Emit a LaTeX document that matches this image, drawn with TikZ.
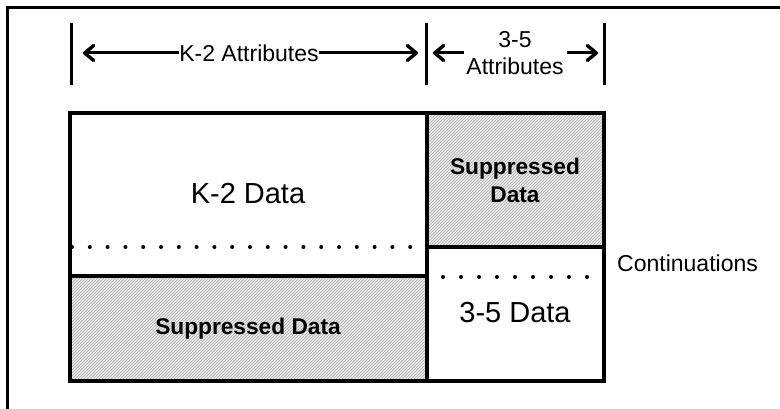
\documentclass[tikz,border=0pt]{standalone}
\usepackage{fontspec}
\setmainfont{Liberation Sans}
\usetikzlibrary{arrows.meta,patterns}
\begin{document}
\begin{tikzpicture}[x=1pt,y=-1pt,
 frame/.style={line width=3pt},
 tickline/.style={line width=3pt},
 dimarrow/.style={line width=3pt,-{Straight Barb[length=9pt,width=15pt,line width=3.4pt,line cap=round,line join=round]}},
 cellborder/.style={line width=3.3pt},
 hatch/.style={fill=gray!18, postaction={pattern=north east lines, pattern color=gray!60}},
 lbl/.style={inner sep=0pt, align=center, font=\fontsize{23}{27}\selectfont},
 big/.style={inner sep=0pt, font=\fontsize{29}{34}\selectfont},
 boldlbl/.style={inner sep=0pt, align=center, font=\fontsize{22.7}{28}\selectfont\bfseries},
 dotmark/.style={fill=black, draw=none}]
\useasboundingbox (0,0) rectangle (780,409);
% outer frame
\coordinate (f1) at (7,409);
\coordinate (f2) at (7,8);
\coordinate (f3) at (780,8);
\draw[frame] (f1) -- (f2) -- (f3);
% ticks
\coordinate (t1a) at (71,23); \coordinate (t1b) at (71,85);
\coordinate (t2a) at (426,23); \coordinate (t2b) at (426,85);
\coordinate (t3a) at (604,23); \coordinate (t3b) at (604,85);
\draw[tickline] (t1a) -- (t1b);
\draw[tickline] (t2a) -- (t2b);
\draw[tickline] (t3a) -- (t3b);
% dimension labels and arrows
\node[lbl] (k2attr) at (249,53) {K-2 Attributes};
\node[lbl] (attr35) at (515,53.5) {3-5\\Attributes};
\coordinate (a1) at (83,53);
\coordinate (a2) at (418,53);
\coordinate (a3) at (433,53);
\coordinate (a4) at (598,53);
\draw[dimarrow] (k2attr.west) -- (a1);
\draw[dimarrow] (k2attr.east) -- (a2);
\draw[dimarrow] (attr35.west |- a3) ++(-2,0) -- (a3);
\draw[dimarrow] (attr35.east |- a4) ++(3,0) -- (a4);
% cells
\coordinate (bTL) at (70,113);
\coordinate (bBR) at (604,381);
\coordinate (mTop) at (427,113);
\coordinate (mBot) at (427,381);
\coordinate (lSplitL) at (70,276);
\coordinate (lSplitR) at (427,276);
\coordinate (rSplitL) at (427,247);
\coordinate (rSplitR) at (604,247);
\fill[white] (bTL) rectangle (bBR);
\path[hatch] (lSplitL) rectangle (mBot);
\path[hatch] (mTop) rectangle (rSplitR);
\draw[cellborder] (bTL) rectangle (bBR);
\draw[cellborder] (mTop) -- (mBot);
\draw[cellborder] (lSplitL) -- (lSplitR);
\draw[cellborder] (rSplitL) -- (rSplitR);
% dotted continuation lines
\foreach \i in {0,...,19} \fill[dotmark] ({72+\i*17.8},247) circle (2);
\foreach \i in {0,...,8} \fill[dotmark] ({443+\i*18},277) circle (2);
% texts
\node[big] (k2data) at (248,194) {K-2 Data};
\node[boldlbl] (supL) at (248,329) {Suppressed Data};
\node[boldlbl] (supR) at (515,180) {Suppressed\\Data};
\node[big] (d35) at (515,313) {3-5 Data};
\node[lbl, anchor=west] (cont) at (617,263) {Continuations};
\end{tikzpicture}
\end{document}
